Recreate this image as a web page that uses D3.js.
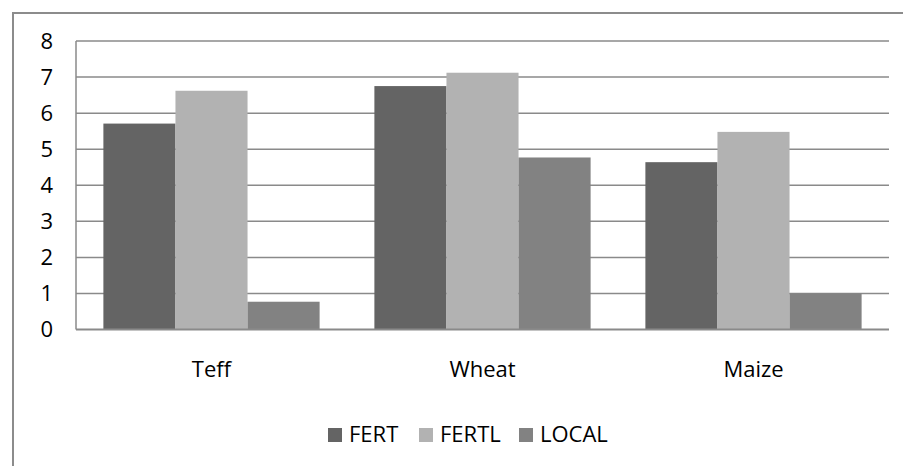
<!DOCTYPE html>
<html lang="en">
<head>
<meta charset="utf-8">
<title>Yield by crop</title>
<script src="https://cdn.jsdelivr.net/npm/d3@7"></script>
<style>
  body { margin: 0; background: #fff; }
  text { font-family: "Open Sans", sans-serif; fill: #000; }
</style>
</head>
<body>
<script>
// data
var crops = ["Teff", "Wheat", "Maize"];
var series = ["FERT", "FERTL", "LOCAL"];
var fert  = [5.71, 6.75, 4.64];
var fertl = [6.62, 7.12, 5.48];
var local = [0.77, 4.77, 1.0];
var yTicks = [0, 1, 2, 3, 4, 5, 6, 7, 8];

var colors = {FERT: "#646464", FERTL: "#b2b2b2", LOCAL: "#828282"};
var values = {FERT: fert, FERTL: fertl, LOCAL: local};

var W = 903, H = 466;
var plot = {left: 76, right: 889, top: 41, bottom: 329.5};
var fontSize = "22px";

var svg = d3.select("body").append("svg")
  .attr("width", W).attr("height", H);

// outer chart frame (runs off the right and bottom)
svg.append("rect")
  .attr("x", 13).attr("y", 13)
  .attr("width", W + 20).attr("height", H + 20)
  .attr("fill", "none").attr("stroke", "#8c8c8c").attr("stroke-width", 2);

// contiguous category bands, bars centred in each with a gap on both sides
var x0 = d3.scaleBand().domain(crops)
  .range([plot.left, plot.right]).padding(0);
var x1 = d3.scaleBand().domain(series)
  .range([0, x0.bandwidth()]).paddingInner(0).paddingOuter(0.38);

var y = d3.scaleLinear().domain([0, 8]).range([plot.bottom, plot.top]);

// gridlines
svg.append("g").selectAll("line").data(yTicks.slice(1)).join("line")
  .attr("x1", plot.left).attr("x2", plot.right)
  .attr("y1", function(d) { return y(d); }).attr("y2", function(d) { return y(d); })
  .attr("stroke", "#8a8a8a").attr("stroke-width", 1.5);

// y axis line
svg.append("line")
  .attr("x1", plot.left).attr("x2", plot.left)
  .attr("y1", plot.top).attr("y2", plot.bottom)
  .attr("stroke", "#8a8a8a").attr("stroke-width", 1.5);

// bars
crops.forEach(function(c, i) {
  series.forEach(function(s) {
    var v = values[s][i];
    svg.append("rect")
      .attr("x", x0(c) + x1(s))
      .attr("width", x1.bandwidth())
      .attr("y", y(v))
      .attr("height", y(0) - y(v))
      .attr("fill", colors[s]);
  });
});

// x axis line
svg.append("line")
  .attr("x1", plot.left).attr("x2", plot.right)
  .attr("y1", y(0)).attr("y2", y(0))
  .attr("stroke", "#8a8a8a").attr("stroke-width", 2);

// y tick labels
svg.append("g").selectAll("text").data(yTicks).join("text")
  .attr("x", 53).attr("y", function(d) { return y(d); })
  .attr("dy", "0.36em").attr("text-anchor", "end")
  .style("font-size", fontSize)
  .text(function(d) { return d; });

// category labels
svg.append("g").selectAll("text").data(crops).join("text")
  .attr("x", function(d) { return x0(d) + x0.bandwidth() / 2; })
  .attr("y", 377).attr("text-anchor", "middle")
  .style("font-size", fontSize)
  .text(function(d) { return d; });

// legend
var legendX = [328, 419, 519];
var legend = svg.append("g");
series.forEach(function(s, i) {
  legend.append("rect")
    .attr("x", legendX[i]).attr("y", 428)
    .attr("width", 14).attr("height", 14)
    .attr("fill", colors[s]);
  legend.append("text")
    .attr("x", legendX[i] + 21).attr("y", 442)
    .style("font-size", fontSize)
    .text(s);
});
</script>
</body>
</html>
